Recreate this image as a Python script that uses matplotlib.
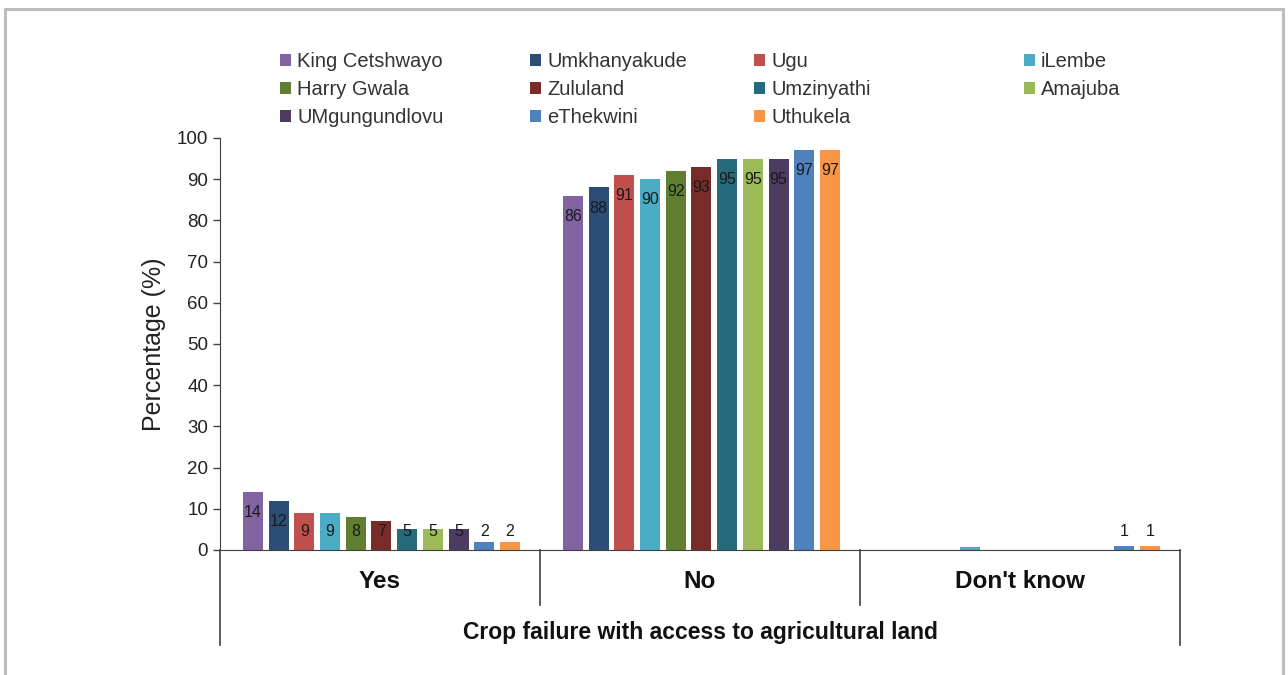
import numpy as np
import matplotlib.pyplot as plt
from matplotlib.patches import Rectangle, Patch

# 資料
districts = ['King Cetshwayo', 'Umkhanyakude', 'Ugu', 'iLembe', 'Harry Gwala', 'Zululand',
             'Umzinyathi', 'Amajuba', 'UMgungundlovu', 'eThekwini', 'Uthukela']
colors = ['#8064A2', '#2C4D75', '#C0504D', '#4BACC6', '#5F7E30', '#772C2A',
          '#276A7C', '#9BBB59', '#4D3B62', '#4F81BD', '#F79646']
categories = ['Yes', 'No', "Don't know"]
yes_vals = [14, 12, 9, 9, 8, 7, 5, 5, 5, 2, 2]
no_vals = [86, 88, 91, 90, 92, 93, 95, 95, 95, 97, 97]
dk_vals = [0, 0, 0, 0.7, 0, 0, 0, 0, 0, 1, 1]

values = np.array([yes_vals, no_vals, dk_vals])  # shape (category, district)

plt.rcParams['font.family'] = ['Liberation Sans', 'DejaVu Sans']

fig = plt.figure(figsize=(12.88, 6.75), dpi=100)
ax = fig.add_axes([220 / 1288, 1 - 550 / 675, 960 / 1288, 412 / 675])

step = 0.0803
width = 0.0625
first = 0.103
for i, (name, c) in enumerate(zip(districts, colors)):
    xs = np.arange(len(categories)) + first + i * step
    vals = values[:, i]
    ax.bar(xs, vals, width=width, color=c, align='center', label=name)
    for x, v in zip(xs, vals):
        if v >= 1:
            ax.text(x, max(v - 5, 4.6), f'{v:.0f}', ha='center', va='center',
                    fontsize=11.5, color='#1a1a1a')

ax.set_xlim(0, 3)
ax.set_ylim(0, 100)
ax.set_yticks(range(0, 101, 10))
ax.tick_params(axis='y', labelsize=13.5, colors='#404040', length=5, width=1,
               labelcolor='#222222')
ax.set_xticks([])
for s in ['top', 'right']:
    ax.spines[s].set_visible(False)
ax.spines['left'].set_color('#404040')
ax.spines['bottom'].set_color('#404040')
ax.set_ylabel('Percentage (%)', fontsize=18, color='#222222', labelpad=8)

# 分組線
tr = ax.get_xaxis_transform()
for x in [0, 3]:
    ax.plot([x, x], [0, -95 / 412], transform=tr, color='#404040', lw=1.2, clip_on=False)
for x in [1, 2]:
    ax.plot([x, x], [0, -55 / 412], transform=tr, color='#404040', lw=1.2, clip_on=False)
for k, cat in enumerate(categories):
    ax.text(k + 0.5, -32 / 412, cat, transform=tr, ha='center', va='center',
            fontsize=17.5, fontweight='bold', color='#111111')
ax.text(1.5, -82 / 412, 'Crop failure with access to agricultural land', transform=tr,
        ha='center', va='center', fontsize=16.5, fontweight='bold', color='#111111')

# 圖例 (四欄)
col_x = [280, 530, 754, 1024]
for col in range(4):
    idx = [r * 4 + col for r in range(3) if r * 4 + col < len(districts)]
    handles = [Patch(facecolor=colors[j], label=districts[j]) for j in idx]
    fig.legend(handles=handles, loc='upper left',
               bbox_to_anchor=(col_x[col] / 1288, 1 - 52 / 675),
               frameon=False, fontsize=14.5, handlelength=0.55, handleheight=0.55,
               handletextpad=0.3, labelspacing=0.45, borderaxespad=0, borderpad=0,
               labelcolor='#333333')

# 外框
fig.patches.append(Rectangle((5 / 1288, -0.02), 1278 / 1288, 1.02 - 9 / 675,
                             transform=fig.transFigure, fill=False,
                             edgecolor='#BDBDBD', lw=2.2))

fig.savefig('out.png', dpi=100)
